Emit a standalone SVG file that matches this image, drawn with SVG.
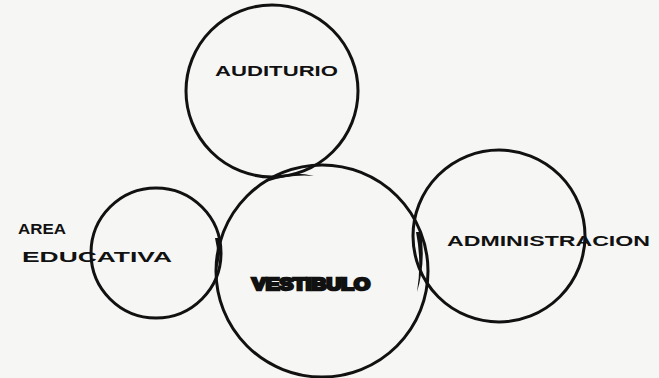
<svg xmlns="http://www.w3.org/2000/svg" width="659" height="378" viewBox="0 0 659 378">
<style>
.c{fill:none;stroke:#111;stroke-width:3}
.lens{fill:#111}
text{font-family:"Liberation Sans",Arial,sans-serif;font-weight:bold;fill:#111}
.t{font-size:14px}
.v{font-size:16px;stroke:#111;stroke-width:2.5;font-weight:900}
</style>
<rect width="659" height="378" fill="#f6f6f4"/>
<g id="connectors"></g>
<g id="auditorio">
<circle class="c" cx="272" cy="91" r="86"/>
<text class="t" x="215" y="76" textLength="123" lengthAdjust="spacingAndGlyphs">AUDITURIO</text>
</g>
<g id="vestibulo">
<circle class="c" cx="322" cy="271" r="106"/>
<path class="lens" d="M266,180 Q290,170 314,176 Q290,174 266,182 Z"/>
<path class="lens" d="M416,232 Q422,262 417,292 Q426,262 421,232 Z"/>
<path class="lens" d="M215,238 Q219,254 216,272 Q222,254 220,238 Z"/>
<text class="v" x="252" y="290" textLength="118" lengthAdjust="spacingAndGlyphs">VESTIBULO</text>
</g>
<g id="area-educativa">
<circle class="c" cx="156" cy="253" r="65"/>
<text class="t" x="18" y="234" textLength="48" lengthAdjust="spacingAndGlyphs">AREA</text>
<text class="t" x="22" y="262" textLength="150" lengthAdjust="spacingAndGlyphs">EDUCATIVA</text>
</g>
<g id="administracion">
<circle class="c" cx="499" cy="236" r="86"/>
<text class="t" x="447" y="246" textLength="203" lengthAdjust="spacingAndGlyphs">ADMINISTRACION</text>
</g>
</svg>
